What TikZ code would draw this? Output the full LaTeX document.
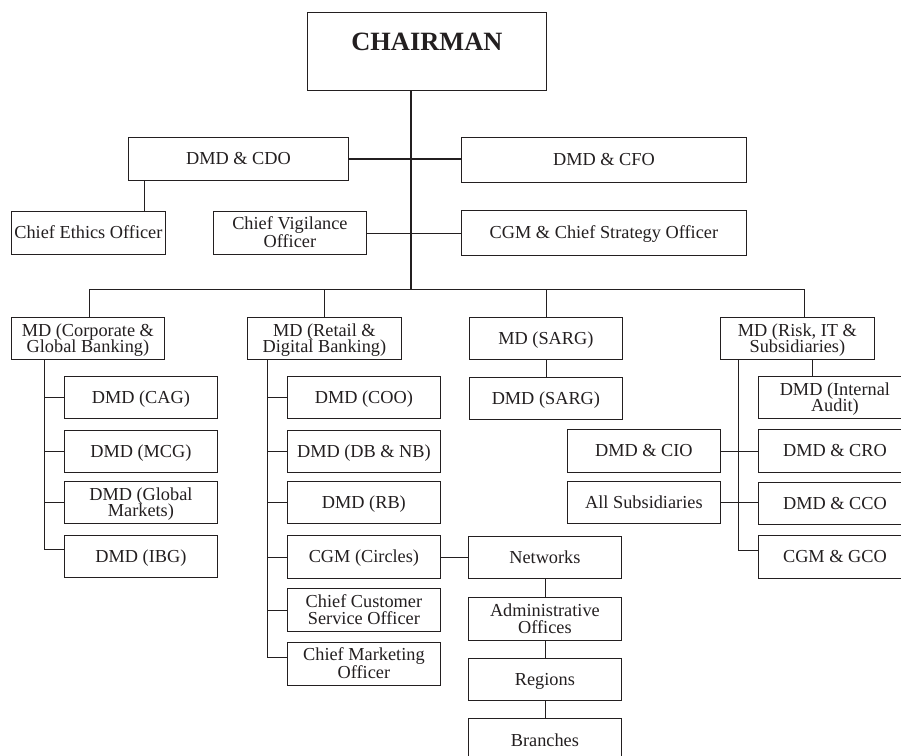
\documentclass[tikz,border=0pt]{standalone}
\usepackage{fontspec}
\setmainfont{Liberation Serif}
\usetikzlibrary{calc}
\definecolor{inkc}{HTML}{231F20}
\newcommand\fsn{\fontsize{18.3}{16.8}\selectfont}
\newcommand\fsb{\fontsize{26.4}{28}\selectfont\bfseries}
\tikzset{
  box/.style={draw=inkc, line width=0.8pt, inner sep=0pt, align=center, font=\fsn, text=inkc, anchor=north west, text height=16.1pt, text depth=4pt},
  two/.style={text height=32.9pt, text depth=4pt},
  sz/.style 2 args={minimum width=#1pt, minimum height=#2pt},
  conn/.style={draw=inkc, line width=0.8pt},
  thick conn/.style={draw=inkc, line width=1.5pt},
}
\begin{document}
\begin{tikzpicture}[x=1pt,y=-1pt]
\fill[white] (0,0) rectangle (901,755);
\useasboundingbox (0,0) rectangle (901,755);
\clip (0,0) rectangle (901,755);

% top
\node[box, font=\fsb, minimum width=239pt, text height=38pt, text depth=40pt] (chair) at (307,12) {CHAIRMAN};
\node[box, sz={220}{43}] (cdo) at (128,137) {DMD \& CDO};
\node[box, sz={285}{45}] (cfo) at (461,137) {DMD \& CFO};
\node[box, sz={154}{43}] (ethics) at (11,211) {Chief Ethics Officer};
\node[box, two, sz={153}{43}] (cvo) at (213,211) {Chief Vigilance\\Officer};
\node[box, sz={285}{45}] (cso) at (461,210) {CGM \& Chief Strategy Officer};

% MD level
\node[box, two, sz={153}{42}] (mdcgb) at (11,317) {MD (Corporate \&\\Global Banking)};
\node[box, two, sz={154}{42}] (mdrdb) at (247,317) {MD (Retail \&\\Digital Banking)};
\node[box, sz={153}{42}] (mdsarg) at (469,317) {MD (SARG)};
\node[box, two, sz={154}{42}] (mdrisk) at (720,317) {MD (Risk, IT \&\\Subsidiaries)};
\node[box, sz={153}{42}] (dmdsarg) at (469,377) {DMD (SARG)};

% left column
\node[box, sz={153}{42}] (cag) at (64,376) {DMD (CAG)};
\node[box, sz={153}{42}] (mcg) at (64,430) {DMD (MCG)};
\node[box, two, sz={153}{42}] (gm) at (64,481) {DMD (Global\\Markets)};
\node[box, sz={153}{42}] (ibg) at (64,535) {DMD (IBG)};

% middle column
\node[box, sz={153}{42}] (coo) at (287,376) {DMD (COO)};
\node[box, sz={153}{42}] (dbnb) at (287,430) {DMD (DB \& NB)};
\node[box, sz={153}{42}] (rb) at (287,481) {DMD (RB)};
\node[box, sz={153}{43}] (circles) at (287,535) {CGM (Circles)};
\node[box, two, sz={153}{43}] (ccso) at (287,588) {Chief Customer\\Service Officer};
\node[box, two, sz={153}{43}] (cmo) at (287,642) {Chief Marketing\\Officer};

% network chain
\node[box, sz={153}{42}] (networks) at (468,536) {Networks};
\node[box, two, sz={153}{43}] (admin) at (468,597) {Administrative\\Offices};
\node[box, sz={153}{42}] (regions) at (468,658) {Regions};
\node[box, sz={153}{60}, text height=28pt, text depth=32pt] (branches) at (468,718) {Branches};

% right column
\node[box, two, sz={153}{42}] (audit) at (758,376) {DMD (Internal\\Audit)};
\node[box, sz={153}{43}] (cro) at (758,429) {DMD \& CRO};
\node[box, sz={153}{42}] (cco) at (758,482) {DMD \& CCO};
\node[box, sz={153}{43}] (gco) at (758,535) {CGM \& GCO};
\node[box, sz={153}{43}] (cio) at (567,429) {DMD \& CIO};
\node[box, sz={153}{42}] (subs) at (567,481) {All Subsidiaries};

% bus coordinates
\coordinate (busL) at (89,289);
\coordinate (busR) at (804,289);
\coordinate (busM) at (411,289);
\coordinate (lv) at (44,359);
\coordinate (mv) at (267,359);
\coordinate (rv) at (738,359);

% trunk and bus
\draw[thick conn] (chair.south -| busM) -- (busM);
\draw[conn] (busL) -- (busR);
\draw[thick conn] (cdo.east) -- (cfo.west |- cdo.east);
\draw[conn] (144,180) coordinate (cdoE) (cdo.south -| cdoE) -- (ethics.north -| cdoE);
\draw[conn] (cvo.east) -- (cso.west |- cvo.east);

% drops to MD boxes
\draw[conn] (busL) -- (mdcgb.north -| busL);
\draw[conn] (mdrdb.north |- busL) -- (mdrdb.north);
\draw[conn] (mdsarg.north |- busL) -- (mdsarg.north);
\draw[conn] (busR) -- (mdrisk.north -| busR);
\draw[conn] (mdsarg.south) -- (dmdsarg.north);

% left column
\draw[conn] (lv) |- ($(ibg.west)+(0,-7)$);
\draw[conn] (cag.west -| lv) -- (cag.west);
\draw[conn] (mcg.west -| lv) -- (mcg.west);
\draw[conn] (gm.west -| lv) -- (gm.west);

% middle column
\draw[conn] (mv) |- ($(cmo.west)+(0,-7)$);
\draw[conn] (coo.west -| mv) -- (coo.west);
\draw[conn] (dbnb.west -| mv) -- (dbnb.west);
\draw[conn] (rb.west -| mv) -- (rb.west);
\draw[conn] (circles.west -| mv) -- (circles.west);
\draw[conn] (ccso.west -| mv) -- (ccso.west);
\draw[conn] (circles.east) -- (networks.west |- circles.east);

% network chain
\draw[conn] (networks.south) -- (admin.north);
\draw[conn] (admin.south) -- (regions.north);
\draw[conn] (regions.south) -- (branches.north);

% right column
\draw[conn] (rv) |- ($(gco.west)+(0,-7)$);
\draw[conn] (cio.east) -- (cro.west |- cio.east);
\draw[conn] (subs.east) -- (cco.west |- subs.east);
\coordinate (ra) at (812,359);
\draw[conn] (ra) -- (audit.north -| ra);
\end{tikzpicture}
\end{document}
